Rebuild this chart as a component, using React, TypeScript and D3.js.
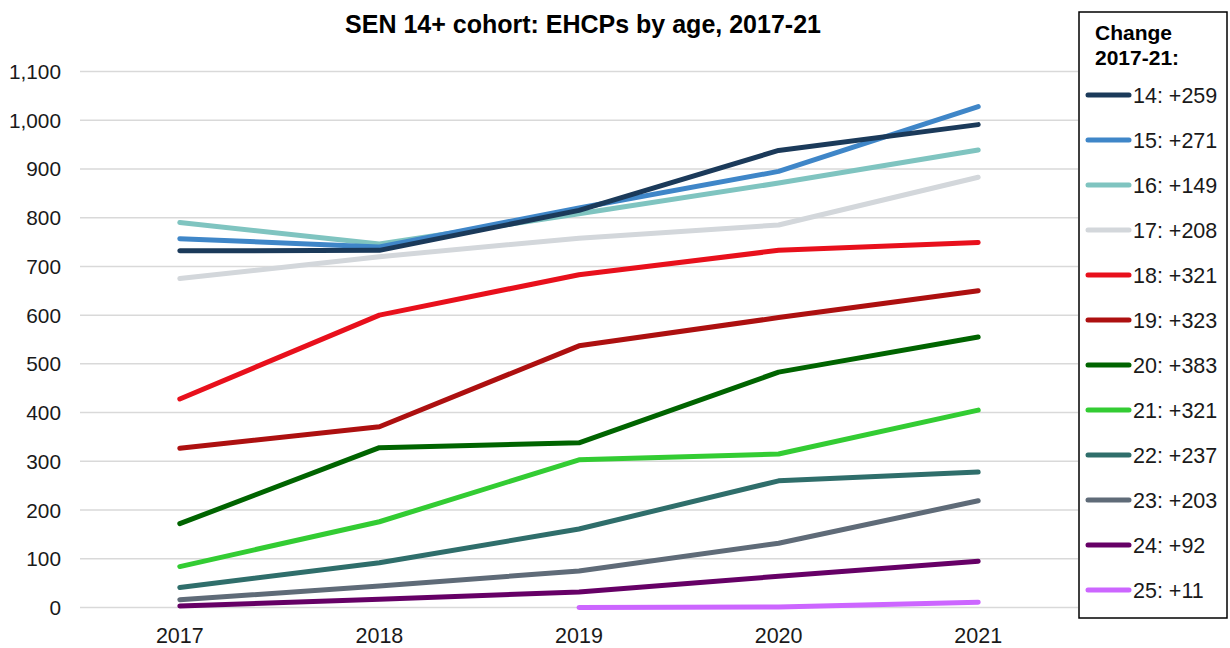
import { useEffect, useRef } from "react";
import * as d3 from "d3";

const years = ["2017", "2018", "2019", "2020", "2021"];
const ages = ["14", "15", "16", "17", "18", "19", "20", "21", "22", "23", "24", "25"];
const changes = ["+259", "+271", "+149", "+208", "+321", "+323", "+383", "+321", "+237", "+203", "+92", "+11"];
const colors = ["#1b3a5a", "#3f86c8", "#7fc4c0", "#d3d7db", "#e8101c", "#ad1010", "#006400", "#33cc33", "#2f6e6b", "#5f6b78", "#660066", "#cc66ff"];

const age14 = [732, 733, 815, 938, 991];
const age15 = [757, 740, 820, 895, 1028];
const age16 = [790, 746, 808, 871, 939];
const age17 = [675, 720, 758, 785, 883];
const age18 = [428, 600, 683, 733, 749];
const age19 = [327, 371, 537, 595, 650];
const age20 = [172, 328, 338, 483, 555];
const age21 = [84, 176, 303, 315, 405];
const age22 = [41, 92, 161, 260, 278];
const age23 = [16, 44, 75, 132, 219];
const age24 = [3, 17, 32, 64, 95];
const age25 = [null, null, 0, 1, 11];

const series = [age14, age15, age16, age17, age18, age19, age20, age21, age22, age23, age24, age25];
const yTicks = [0, 100, 200, 300, 400, 500, 600, 700, 800, 900, 1000, 1100];

export default function App() {
  const ref = useRef<SVGSVGElement | null>(null);

  useEffect(() => {
    if (!ref.current) return;
    const svg = d3.select(ref.current);
    svg.selectAll("*").remove();

    const width = 1230;
    const margin = { right: 152, left: 80 };
    const font = "Liberation Sans, Arial, sans-serif";

    const x = d3.scaleBand().domain(years).range([margin.left, width - margin.right]);
    const y = d3.scaleLinear().domain([0, 1100]).range([607.5, 71.5]);

    // gridlines
    svg.append("g")
      .selectAll("line")
      .data(yTicks)
      .enter()
      .append("line")
      .attr("x1", margin.left)
      .attr("x2", width - margin.right)
      .attr("y1", d => y(d))
      .attr("y2", d => y(d))
      .attr("stroke", "#d9d9d9")
      .attr("stroke-width", 1.5);

    // y labels
    svg.append("g")
      .selectAll("text")
      .data(yTicks)
      .enter()
      .append("text")
      .attr("x", 61)
      .attr("y", d => y(d))
      .attr("dy", "0.36em")
      .attr("text-anchor", "end")
      .attr("font-family", font)
      .attr("font-size", 20.8)
      .attr("fill", "#1a1a1a")
      .text(d => d3.format(",")(d));

    // x labels
    svg.append("g")
      .selectAll("text")
      .data(years)
      .enter()
      .append("text")
      .attr("x", d => (x(d) || 0) + x.bandwidth() / 2)
      .attr("y", 643)
      .attr("text-anchor", "middle")
      .attr("font-family", font)
      .attr("font-size", 21.5)
      .attr("fill", "#1a1a1a")
      .text(d => d);

    // lines
    const line = d3.line<number | null>()
      .defined(d => d !== null)
      .x((d, i) => (x(years[i]) || 0) + x.bandwidth() / 2)
      .y(d => y(d as number));

    // draw in reverse so the top series sit above
    const order = series.map((_, i) => i).reverse();
    svg.append("g")
      .selectAll("path")
      .data(order)
      .enter()
      .append("path")
      .attr("d", i => line(series[i]))
      .attr("fill", "none")
      .attr("stroke", i => colors[i])
      .attr("stroke-width", 5)
      .attr("stroke-linecap", "round")
      .attr("stroke-linejoin", "round");

    // title
    svg.append("text")
      .attr("x", 583)
      .attr("y", 33)
      .attr("text-anchor", "middle")
      .attr("font-family", font)
      .attr("font-size", 25)
      .attr("font-weight", "bold")
      .attr("fill", "#000")
      .text("SEN 14+ cohort: EHCPs by age, 2017-21");

    // legend box
    const lg = svg.append("g");
    lg.append("rect")
      .attr("x", 1079)
      .attr("y", 12)
      .attr("width", 148)
      .attr("height", 606)
      .attr("fill", "#fff")
      .attr("stroke", "#000")
      .attr("stroke-width", 1.5);

    lg.append("text")
      .attr("x", 1095)
      .attr("y", 40)
      .attr("font-family", font)
      .attr("font-size", 21)
      .attr("font-weight", "bold")
      .text("Change");
    lg.append("text")
      .attr("x", 1095)
      .attr("y", 65)
      .attr("font-family", font)
      .attr("font-size", 21)
      .attr("font-weight", "bold")
      .text("2017-21:");

    const rowY = d3.scalePoint().domain(ages).range([95, 590]);
    const rows = lg.selectAll("g.row")
      .data(ages)
      .enter()
      .append("g")
      .attr("class", "row")
      .attr("transform", d => `translate(0, ${rowY(d)})`);

    rows.append("line")
      .attr("x1", 1088)
      .attr("x2", 1129)
      .attr("stroke", (d, i) => colors[i])
      .attr("stroke-width", 5)
      .attr("stroke-linecap", "round");

    rows.append("text")
      .attr("x", 1133)
      .attr("dy", "0.36em")
      .attr("font-family", font)
      .attr("font-size", 21.5)
      .attr("fill", "#1a1a1a")
      .text((d, i) => `${d}: ${changes[i]}`);
  }, []);

  return (
    <div style={{ position: "absolute", left: 0, top: 0, background: "#fff" }}>
      <svg ref={ref} width={1230} height={648} />
    </div>
  );
}
